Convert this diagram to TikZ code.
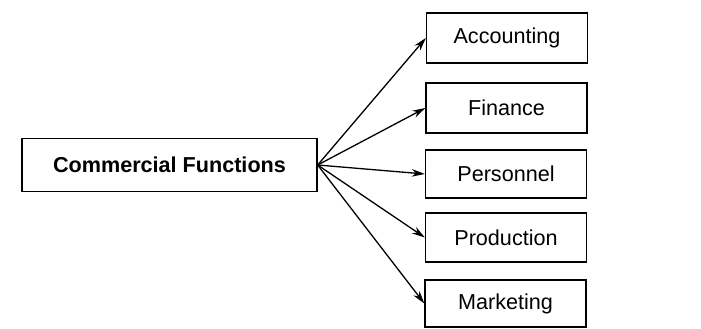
\documentclass[tikz,border=0pt]{standalone}
\usepackage{fontspec}
\setmainfont{Liberation Sans}
\usetikzlibrary{arrows.meta}
\begin{document}
\begin{tikzpicture}[x=1pt,y=-1pt,
  box/.style={draw,line width=1.3pt,inner sep=0pt,font=\fontsize{21.6}{25}\selectfont},
  fbox/.style={box,minimum width=161pt,minimum height=49pt},
  arr/.style={line width=1.3pt,-{Stealth[length=13pt,width=7.5pt]}}]
\useasboundingbox (0,0) rectangle (701,329);
\node[box,minimum width=295pt,minimum height=53pt,font=\fontsize{21.6}{25}\selectfont\bfseries] (cf) at (169.5,165) {Commercial Functions};
\node[fbox,minimum height=50pt] (acc) at (507,38) {Accounting};
\node[fbox,minimum height=50pt] (fin) at (506.5,108) {Finance};
\node[fbox,minimum height=48pt] (per) at (506,174) {Personnel};
\node[fbox] (pro) at (506,237.5) {Production};
\node[fbox,minimum height=47pt] (mar) at (505.5,303.5) {Marketing};
\foreach \t in {acc,fin,per,pro,mar}
  \draw[arr] (cf.east) -- (\t.west);
\end{tikzpicture}
\end{document}
